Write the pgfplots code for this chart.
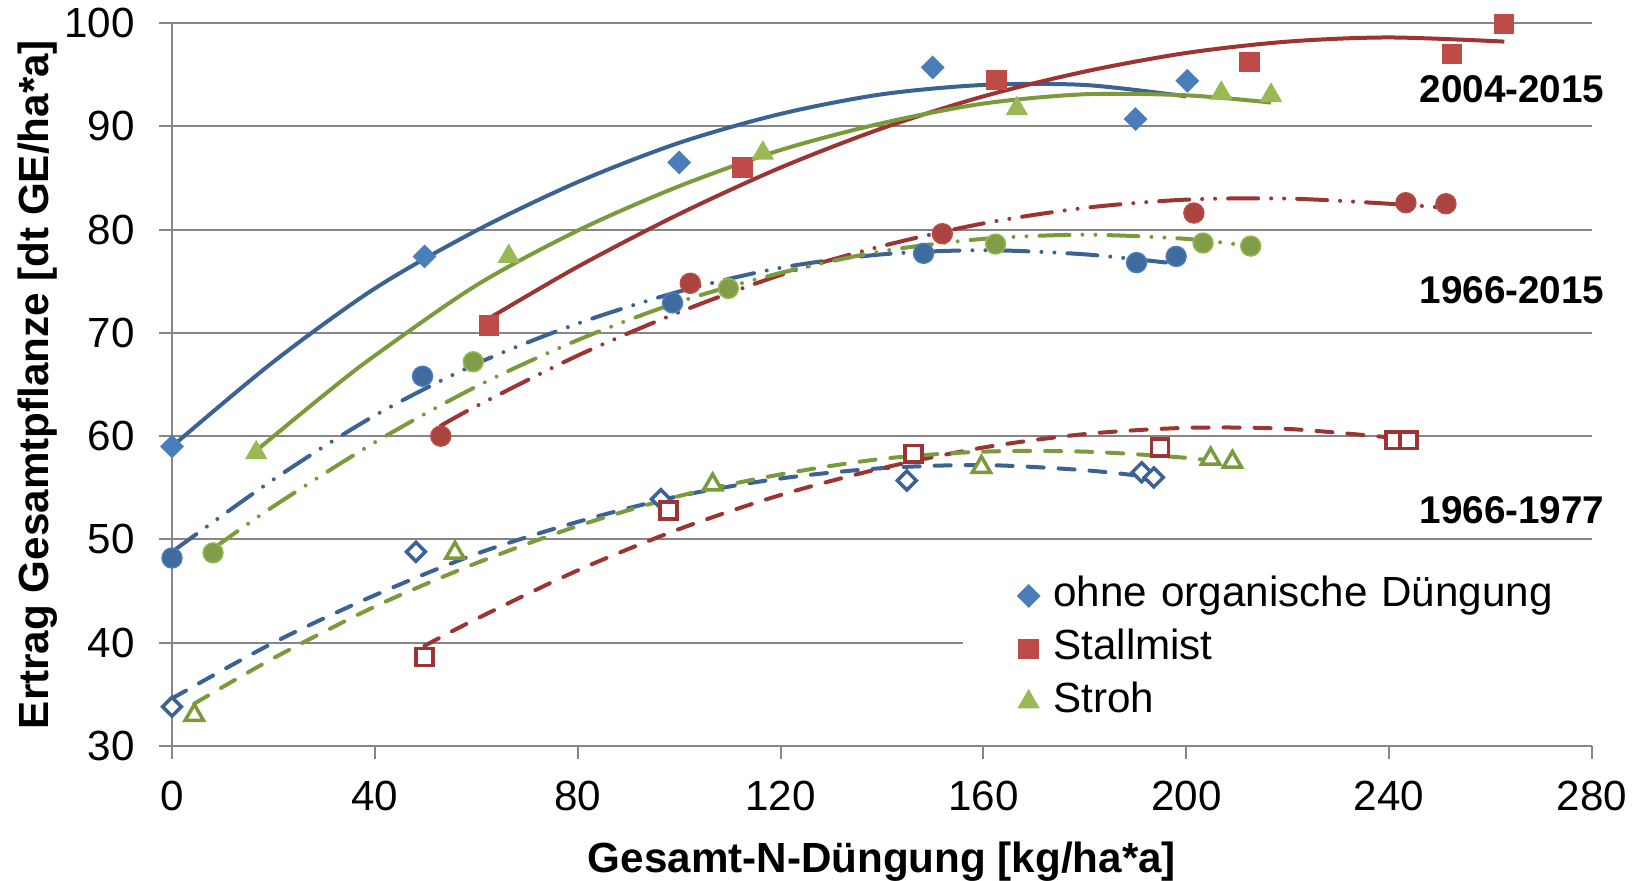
\documentclass[border=0pt]{standalone}
\usepackage{fontspec}
\setmainfont{Liberation Sans}
\usepackage{pgfplots}
\pgfplotsset{compat=1.18}
\definecolor{bL}{RGB}{58,98,148}
\definecolor{bM}{RGB}{74,126,187}
\definecolor{rL}{RGB}{155,52,50}
\definecolor{rM}{RGB}{190,75,72}
\definecolor{gL}{RGB}{122,154,60}
\definecolor{gM}{RGB}{152,185,84}
\definecolor{gridc}{RGB}{134,134,134}
\pgfplotsset{
  trend/.style={line width=0.4mm, no marks, smooth, forget plot},
  solidl/.style={solid},
  dashl/.style={dash pattern=on 1.6mm off 1.5mm, line cap=round},
  ddl/.style={dash pattern=on 3mm off 1.3mm on 0mm off 1.3mm on 0mm off 1.3mm, line cap=round},
  limg/.style={legend image code/.code={\draw[##1] plot coordinates {(0cm,0cm)}; \path (-2.5mm,0) (2.4mm,0);}},
}
\begin{document}
\begin{tikzpicture}
\begin{axis}[
  at={(0,0)}, anchor=south west,
  scale only axis, width=142mm, height=72.3mm,
  xmin=0, xmax=280, ymin=30, ymax=100,
  xtick={0,40,...,280}, ytick={30,40,...,100},
  axis x line*=bottom, axis y line*=left,
  axis line style={draw=gridc, line width=0.2mm, -},
  ymajorgrids, grid style={draw=gridc, line width=0.2mm},
  tick align=outside, major tick length=1.3mm,
  tick style={draw=gridc, line width=0.2mm},
  tick label style={font=\fontsize{12}{14}\selectfont},
  xticklabel style={yshift=-0.95mm},
  yticklabel style={xshift=-1.2mm},
  /pgf/number format/assume math mode=true,
  clip=false,
  xlabel={Gesamt-N-Düngung [kg/ha*a]},
  ylabel={Ertrag Gesamtpflanze [dt GE/ha*a]},
  xlabel style={at={(axis description cs:0.5,-0.16)}, anchor=center, font=\fontsize{12}{14}\selectfont\bfseries},
  ylabel style={at={(axis description cs:-0.0945,0.5)}, anchor=center, font=\fontsize{12}{14}\selectfont\bfseries},
  legend cell align=left,
  legend style={at={(rel axis cs:0.5565,0.25)}, anchor=north west, draw=none, fill=white,
    inner xsep=4mm, inner ysep=1mm, font=\fontsize{12}{14}\selectfont,
    nodes={inner sep=0pt, text height=3.1mm, text depth=0.9mm}, row sep=1.3mm,
    /tikz/every even column/.append style={text width=50mm}},
]
% ---- trendlines 2004-2015 (solid)
\addplot[trend, solidl, color=bL] coordinates {(0,59.0)(20,67.2)(40,74.3)(60,79.9)(80,84.6)(100,88.4)(120,91.2)(140,93.1)(160,94.0)(180,94.0)(200,92.9)};
\addplot[trend, solidl, color=rL] coordinates {(62.5,71.4)(80,76.4)(100,81.5)(120,86.0)(140,89.8)(160,92.9)(180,95.3)(200,97.1)(220,98.2)(240,98.6)(262.7,98.2)};
\addplot[trend, solidl, color=gL] coordinates {(16.6,58.6)(30,64.0)(40,67.8)(60,74.6)(80,79.9)(100,84.2)(120,87.7)(140,90.3)(160,92.2)(180,93.1)(200,93.0)(216.7,92.3)};
% ---- trendlines 1966-2015 (dash dot dot)
\addplot[trend, ddl, color=bL] coordinates {(0,48.8)(20,55.8)(40,62.0)(60,67.0)(80,70.9)(100,74.0)(120,76.3)(140,77.6)(160,78.0)(180,77.6)(198,76.7)};
\addplot[trend, ddl, color=rL] coordinates {(53,61.0)(60,62.9)(80,67.8)(100,72.0)(120,75.6)(140,78.4)(160,80.6)(180,82.1)(200,82.9)(220,83.0)(240,82.5)(251.2,82.1)};
\addplot[trend, ddl, color=gL] coordinates {(8.1,49.1)(20,53.2)(40,59.4)(60,64.8)(80,69.3)(100,73.0)(120,75.8)(140,77.9)(160,79.1)(180,79.5)(200,79.1)(212.7,78.4)};
% ---- trendlines 1966-1977 (dashed)
\addplot[trend, dashl, color=bL] coordinates {(0,34.6)(20,40.0)(40,44.6)(60,48.6)(80,51.7)(100,54.2)(120,55.9)(140,56.9)(160,57.2)(180,56.7)(193.6,56.0)};
\addplot[trend, dashl, color=rL] coordinates {(49.8,39.7)(60,42.3)(80,47.0)(100,51.0)(120,54.3)(140,56.9)(160,58.9)(180,60.2)(200,60.8)(220,60.7)(243.8,59.7)};
\addplot[trend, dashl, color=gL] coordinates {(4.4,34.1)(20,38.5)(40,43.5)(60,47.7)(80,51.3)(100,54.2)(120,56.3)(140,57.8)(160,58.5)(180,58.5)(200,57.9)(209.1,57.3)};
% ---- markers 2004-2015 (legend)
\addplot[only marks, limg, mark=square*, mark size=2.2pt, mark options={rotate=45, fill=bM, draw=bM}] coordinates {(0,59.0)(49.8,77.4)(100,86.5)(150,95.7)(190,90.7)(200.2,94.4)};
\addlegendentry{ohne organische Düngung}
\addplot[only marks, limg, mark=square*, mark size=2.7pt, mark options={fill=rM, draw=rM}] coordinates {(62.5,70.7)(112.5,86.0)(162.6,94.5)(212.5,96.2)(252.4,97.0)(262.7,99.9)};
\addlegendentry{Stallmist}
\addplot[only marks, limg, mark=triangle*, mark size=3.3pt, mark options={fill=gM, draw=gM}] coordinates {(16.6,58.4)(66.4,77.4)(116.5,87.4)(166.6,91.7)(206.9,93.2)(216.7,93.0)};
\addlegendentry{Stroh}
% ---- markers 1966-2015 (circles)
\addplot[only marks, forget plot, mark=*, mark size=2.85pt, mark options={fill=bM!85!black, draw=bM}] coordinates {(0,48.2)(49.4,65.8)(98.7,72.9)(148.2,77.7)(190.2,76.8)(198,77.4)};
\addplot[only marks, forget plot, mark=*, mark size=2.85pt, mark options={fill=rM!90!black, draw=rM}] coordinates {(53,60.0)(102.2,74.8)(151.9,79.6)(201.5,81.6)(243.3,82.6)(251.2,82.5)};
\addplot[only marks, forget plot, mark=*, mark size=2.85pt, mark options={fill=gM!85!black, draw=gM}] coordinates {(8.1,48.7)(59.4,67.2)(109.7,74.3)(162.4,78.6)(203.3,78.7)(212.7,78.4)};
% ---- markers 1966-1977 (open)
\addplot[only marks, forget plot, mark=square*, mark size=1.9pt, mark options={rotate=45, fill=white, draw=bL, line width=0.35mm}] coordinates {(0,33.8)(48.1,48.8)(96.4,53.9)(144.9,55.7)(191.2,56.5)(193.6,56.0)};
\addplot[only marks, forget plot, mark=square*, mark size=2.4pt, mark options={fill=white, draw=rL, line width=0.35mm}] coordinates {(49.8,38.6)(97.9,52.8)(146.2,58.3)(194.8,58.9)(241.0,59.6)(243.8,59.6)};
\addplot[only marks, forget plot, mark=triangle*, mark size=3.0pt, mark options={fill=white, draw=gL, line width=0.35mm}] coordinates {(4.4,33.0)(55.8,48.7)(106.6,55.3)(159.6,57.0)(204.8,57.8)(209.1,57.5)};
% ---- period labels
\node[anchor=east, inner sep=0pt, font=\fontsize{11}{13}\selectfont\bfseries] at (axis cs:282.6,93.6) {2004-2015};
\node[anchor=east, inner sep=0pt, font=\fontsize{11}{13}\selectfont\bfseries] at (axis cs:282.6,74.1) {1966-2015};
\node[anchor=east, inner sep=0pt, font=\fontsize{11}{13}\selectfont\bfseries] at (axis cs:282.6,52.8) {1966-1977};
\end{axis}
\pgfresetboundingbox
\path[use as bounding box] (-17.2mm,-13.5mm) rectangle (147.4mm,74.6mm);
\end{tikzpicture}
\end{document}
